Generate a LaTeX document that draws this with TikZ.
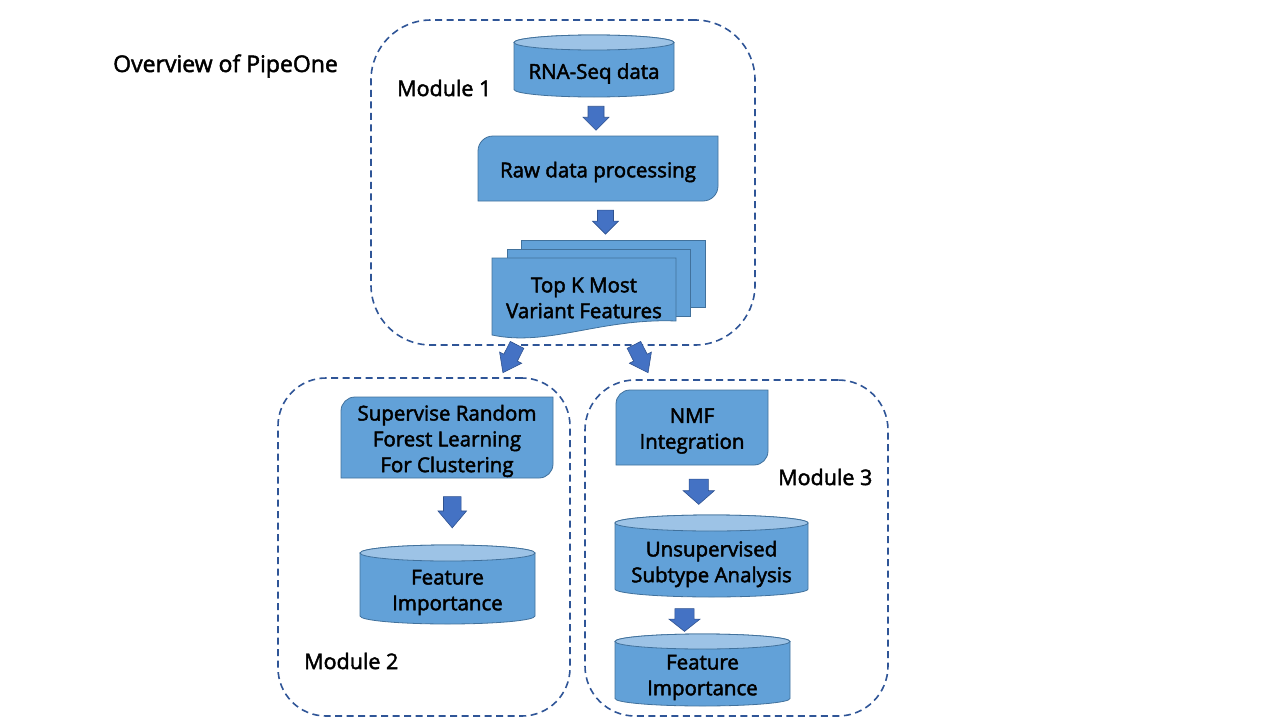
\documentclass[tikz,border=0pt]{standalone}
\usepackage{fontspec}
\setmainfont{Open Sans}
\usetikzlibrary{calc,backgrounds}
\definecolor{boxblue}{HTML}{62A1D8}
\definecolor{topblue}{HTML}{9DC3E6}
\definecolor{edgeblue}{HTML}{41719C}
\definecolor{arrowblue}{HTML}{4472C4}
\definecolor{arrowedge}{HTML}{2F528F}
\definecolor{dashblue}{HTML}{2F5597}
\newcommand{\heavytext}{\special{pdf:literal direct 2 Tr 0.45 w}}
\newcommand{\cylinderbox}[7]{% name, cx, top-ellipse centre y, lowest y, half width, ry, text
  \path[shapefill] ({#2-#5},{-#3}) -- ({#2-#5},{-(#4-#6)})
     arc[start angle=180,end angle=360,x radius=#5,y radius=#6]
     -- ({#2+#5},{-#3})
     arc[start angle=0,end angle=180,x radius=#5,y radius=#6] -- cycle;
  \path[topfill] (#2,{-#3}) ellipse[x radius=#5,y radius=#6];
  \node[txt, minimum width={2*#5}, minimum height={#4-#3-#6}] (#1) at (#2,{-(#3+#6+#4)/2}) {#7};
}
\newcommand{\diagbox}[7]{% name, x1, y1, x2, y2, r, text
  \path[shapefill] (#2,{-#5}) -- (#2,{-#3-#6})
     arc[start angle=180,end angle=90,radius=#6] -- (#4,{-#3})
     -- (#4,{-#5+#6}) arc[start angle=0,end angle=-90,radius=#6] -- cycle;
  \node[txt, minimum width={#4-#2}, minimum height={#5-#3}] (#1) at ({(#2+#4)/2},{-(#3+#5)/2-3.5}) {#7};
}
\begin{document}
\begin{tikzpicture}[x=1pt,y=1pt]
\tikzset{
  modbox/.style={draw=dashblue, line width=1.6pt, dash pattern=on 7pt off 4.5pt, inner sep=0pt},
  shapefill/.style={fill=boxblue, draw=edgeblue, line width=0.8pt},
  topfill/.style={fill=topblue, draw=edgeblue, line width=0.8pt},
  txt/.style={font=\fontsize{20.5}{25.8}\selectfont\heavytext, align=center, text=black, inner sep=0pt},
  lbl/.style={font=\fontsize{21.5}{26}\selectfont\heavytext, anchor=west, inner sep=0pt, text=black},
  arrowfill/.style={fill=arrowblue, draw=arrowedge, line width=0.6pt},
  downarrow/.pic={\path[arrowfill] (-8,12) -- (8,12) -- (8,1) -- (13,1) -- (0,-12) -- (-13,1) -- (-8,1) -- cycle;}
}
\useasboundingbox (0,0) rectangle (1280,-720);

% module frames
\node[modbox, rounded corners=60pt, minimum width=384, minimum height=325] (m1) at (563,-182.5) {};
\node[modbox, rounded corners=48pt, minimum width=292, minimum height=338] (m2) at (424,-547) {};
\node[modbox, rounded corners=50pt, minimum width=303, minimum height=336] (m3) at (736.5,-548) {};

% labels
\node[lbl, font=\fontsize{23}{28}\selectfont\heavytext] (title) at (113,-66) {Overview of PipeOne};
\node[lbl] (l1) at (397,-88) {Module 1};
\node[lbl] (l2) at (304,-661) {Module 2};
\node[lbl] (l3) at (778,-477) {Module 3};

% module 1
\cylinderbox{rna}{594}{42.5}{97}{80}{7.5}{RNA-Seq data}
\diagbox{raw}{478}{136}{718}{201}{15}{Raw data processing}
\node[shapefill, minimum width=184, minimum height=67, inner sep=0pt] (docback) at (613,-273.5) {};
\node[shapefill, minimum width=183, minimum height=67, inner sep=0pt] (docmid) at (598.5,-282.5) {};
\path[shapefill] (492,-258) -- (676,-258) -- (676,-321)
   .. controls (600,-318) and (548,-347) .. (492,-335) -- cycle;
\node[txt, minimum width=184, minimum height=64] (topk) at (584,-298) {Top K Most\\Variant Features};

\path ($(rna.south)!0.5!(raw.north)$) pic {downarrow};
\path ($(raw.south)!0.5!(docback.north)$) pic {downarrow};

% arrows to modules 2 and 3
\path ($(m1.south)+(-53,-13)$) pic[rotate=-27, xscale=0.95, yscale=1.3] {downarrow};
\path ($(m1.south)+(78,-13)$) pic[rotate=27, xscale=0.95, yscale=1.3] {downarrow};

% module 2
\diagbox{rf}{341}{397}{553}{478}{14}{Supervise Random\\Forest Learning\\For Clustering}
\cylinderbox{fi2}{447.5}{553}{624}{87.5}{8}{Feature\\Importance}
\path ($(rf.south)!0.5!(fi2.north)+(5,9)$) pic[xscale=1.1, yscale=1.3] {downarrow};

% module 3
\diagbox{nmf}{616}{390}{768}{465}{14}{NMF\\Integration}
\cylinderbox{uns}{711.5}{523}{597}{96.5}{8}{Unsupervised\\Subtype Analysis}
\cylinderbox{fi3}{702.5}{641.5}{706}{87.5}{7.5}{Feature\\Importance}
\path ($(nmf.south)!0.5!(uns.north)+(-3,8)$) pic[xscale=1.2, yscale=1.05] {downarrow};
\path ($(uns.south)!0.5!(fi3.north)+(-22.5,3)$) pic[xscale=1.2, yscale=0.95] {downarrow};
\end{tikzpicture}
\end{document}
